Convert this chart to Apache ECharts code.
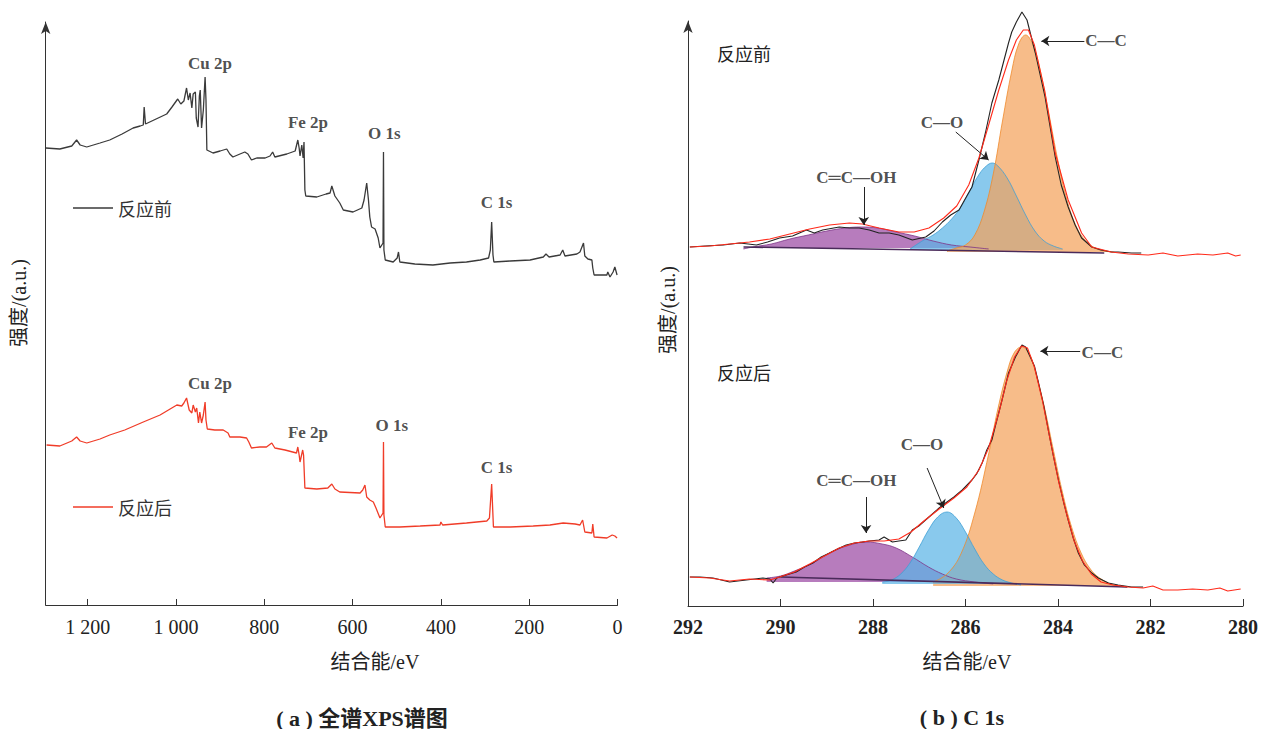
<!DOCTYPE html>
<html><head><meta charset="utf-8">
<script src="https://cdn.jsdelivr.net/npm/echarts@6/dist/echarts.min.js"></script>
<style>html,body{margin:0;padding:0;background:#fff}#c{width:1261px;height:729px}</style>
</head><body><div id="c"></div>
<script>
// ---------- DATA (binding energy eV, intensity a.u.) ----------
const surveyBefore = [[1295,457],[1263,456],[1236,459],[1225,465],[1217,460],[1202,458],[1172,462],[1150,465],[1122,471],[1097,477],[1081,479],[1074,480],[1072,498],[1069,481],[1045,486],[1021,491],[1009,498],[996,506],[989,501],[982,504],[976,517],[972,505],[968,512],[964,497],[961,511],[956,513],[954,487],[950,478],[947,509],[945,515],[942,477],[938,495],[934,528],[932,505],[930,455],[916,452],[900,454],[885,456],[878,451],[871,448],[855,451],[844,453],[837,451],[829,445],[817,447],[798,447],[787,449],[781,453],[776,448],[749,451],[730,454],[724,465],[721,457],[719,449],[715,460],[712,447],[710,463],[708,415],[706,409],[681,408],[660,411],[651,412],[647,419],[640,409],[629,402],[621,395],[599,393],[579,397],[574,405],[568,422],[564,405],[561,388],[557,378],[549,376],[542,367],[538,357],[531,362],[530,453],[529,355],[526,345],[508,343],[499,347],[496,353],[493,343],[459,341],[418,340],[379,342],[342,343],[311,345],[292,347],[288,355],[285,383],[282,350],[280,343],[243,344],[198,345],[168,348],[162,351],[155,348],[130,350],[124,355],[119,349],[92,351],[85,353],[77,362],[74,349],[67,346],[58,345],[56,337],[53,330],[40,330],[24,330],[22,333],[17,328],[10,333],[6,338],[1,330]];
const surveyAfter = [[1293,160],[1263,159],[1236,164],[1225,168],[1217,164],[1202,162],[1172,166],[1150,170],[1116,175],[1074,183],[1036,190],[998,200],[987,199],[982,202],[976,207],[970,195],[964,192],[961,200],[956,193],[953,197],[949,182],[946,193],[942,182],[938,190],[934,203],[932,185],[929,176],[912,175],[893,175],[882,172],[878,168],[855,168],[840,167],[835,163],[829,157],[810,158],[795,158],[783,162],[776,157],[753,155],[727,152],[724,158],[721,150],[719,143],[713,155],[711,150],[708,117],[681,116],[656,117],[647,121],[640,116],[629,113],[583,112],[577,115],[572,120],[568,108],[561,105],[553,103],[547,97],[538,87],[531,92],[530,163],[529,90],[526,78],[493,78],[447,79],[402,80],[400,83],[396,80],[342,82],[296,84],[290,87],[285,121],[281,78],[243,78],[191,79],[153,80],[123,82],[96,81],[85,80],[79,85],[74,73],[58,72],[56,81],[53,68],[24,67],[12,70],[6,69],[1,67]];
const surveyLabelsBefore = [['Cu 2p',923,542],['Fe 2p',701,483],['O 1s',528,472],['C 1s',274,403]];
const surveyLabelsAfter = [['Cu 2p',923,222],['Fe 2p',701,173],['O 1s',511,180],['C 1s',274,138]];
const surveyTicks = [0,200,400,600,800,1000,1200];

// C 1s before reaction
const c1sBeforeRaw = [[291.96,359],[291.63,360],[291.24,361],[290.88,363],[290.52,361],[290.28,364],[290.02,368],[289.74,370],[289.44,376],[289.27,373],[289.09,376],[288.73,379],[288.51,378],[288.30,378],[288.08,376],[287.87,373],[287.65,373],[287.44,371],[287.15,366],[286.86,369],[286.68,375],[286.50,384],[286.32,391],[286.14,396],[286.02,406],[285.86,419],[285.71,446],[285.57,473],[285.43,503],[285.28,526],[285.07,563],[285.00,574],[284.90,584],[284.78,594],[284.67,586],[284.49,553],[284.28,509],[284.06,449],[283.93,421],[283.78,399],[283.63,381],[283.49,368],[283.27,359],[283.07,356],[282.84,354],[282.70,354],[282.41,353],[282.2,353]];
const c1sBeforeFit = [[291.96,359],[291.53,360],[291.10,362],[290.67,364],[290.23,367],[289.80,372],[289.37,377],[288.94,381],[288.51,383],[288.23,382],[287.87,378],[287.44,374],[287.11,374],[286.79,378],[286.47,388],[286.19,400],[285.93,421],[285.71,448],[285.50,481],[285.28,516],[285.07,546],[284.90,566],[284.75,576],[284.64,576],[284.51,561],[284.29,516],[284.06,453],[283.78,406],[283.49,373],[283.27,359],[282.85,354],[282.48,352],[282.05,351],[281.73,353],[281.41,350],[280.98,352],[280.65,351],[280.33,353],[280.16,350],[280.05,351]];
const ccohBefore = [[290.8,357],[290.6,359],[290.2,362],[289.8,367],[289.4,371],[289.0,375],[288.6,378],[288.26,379],[287.9,378],[287.5,374],[287.1,370],[286.7,365],[286.3,361],[285.9,359],[285.5,357]];
const coBefore = [[287.2,357],[286.9,366],[286.7,371],[286.5,378],[286.3,387],[286.1,399],[285.9,416],[285.7,432],[285.55,440],[285.42,443],[285.3,440],[285.1,428],[284.9,410],[284.7,391],[284.5,375],[284.3,365],[284.1,360],[283.9,357]];
const ccBefore = [[286.4,355],[286.2,358],[286.0,361],[285.8,371],[285.6,394],[285.4,432],[285.2,485],[285.0,535],[284.85,562],[284.7,571],[284.55,562],[284.4,539],[284.2,493],[284.0,445],[283.8,405],[283.6,379],[283.4,365],[283.2,358],[283.0,355],[282.8,354]];
const bgBefore = [[290.8,359],[283.0,353]];
const baseBefore = [358,356,354]; // fill base of C=C-OH, C-O, C-C

// C 1s after reaction
const c1sAfterRaw = [[291.96,29],[291.74,29],[291.46,28],[291.10,24],[290.74,26],[290.38,28],[290.23,27],[290.16,23],[290.08,28],[290.02,29],[289.66,34],[289.48,39],[289.30,43],[289.12,49],[288.94,53],[288.77,57],[288.58,61],[288.40,63],[288.23,64],[288.08,65],[287.87,66],[287.76,69],[287.58,64],[287.44,65],[287.29,66],[287.15,76],[287.01,80],[286.79,89],[286.57,98],[286.43,103],[286.25,109],[286.07,116],[285.86,126],[285.76,132],[285.64,143],[285.54,156],[285.43,166],[285.36,179],[285.21,206],[285.07,233],[284.92,249],[284.78,261],[284.70,259],[284.60,249],[284.51,240],[284.42,223],[284.31,201],[284.21,176],[284.10,150],[283.99,126],[283.88,104],[283.78,86],[283.67,68],[283.56,53],[283.43,41],[283.27,33],[283.13,28],[282.91,23],[282.70,21],[282.41,19],[282.16,19]];
const c1sAfterFit = [[291.96,29],[291.53,28],[291.10,25],[290.67,27],[290.23,26],[290.02,29],[289.70,34],[289.37,42],[289.05,50],[288.73,58],[288.40,63],[288.08,65],[287.76,65],[287.44,67],[287.18,74],[286.90,85],[286.57,97],[286.25,108],[285.97,119],[285.71,136],[285.50,158],[285.28,193],[285.11,225],[284.94,249],[284.79,260],[284.66,258],[284.51,239],[284.34,206],[284.16,164],[283.99,125],[283.82,93],[283.65,65],[283.47,45],[283.28,32],[283.07,24],[282.81,21],[282.48,19],[282.16,18],[281.95,20],[281.73,16],[281.41,16],[281.09,17],[280.76,16],[280.50,18],[280.33,15],[280.05,17]];
const ccohAfter = [[290.3,28],[290.0,30],[289.7,35],[289.3,43],[288.9,54],[288.5,61],[288.15,64],[287.8,62],[287.5,58],[287.15,49],[286.8,39],[286.5,32],[286.2,27],[285.8,24],[285.4,22]];
const coAfter = [[287.8,24],[287.6,26],[287.4,32],[287.2,43],[287.0,59],[286.8,76],[286.6,89],[286.4,94],[286.2,88],[286.0,74],[285.8,57],[285.6,42],[285.4,32],[285.2,26],[285.0,23],[284.8,21]];
const ccAfter = [[286.7,24],[286.4,32],[286.1,52],[285.8,93],[285.5,152],[285.3,197],[285.1,234],[284.95,253],[284.79,259],[284.63,253],[284.5,236],[284.3,200],[284.1,156],[283.9,113],[283.7,78],[283.5,53],[283.3,37],[283.1,28],[282.8,21],[282.5,19]];
const bgAfter = [[290.0,29],[282.5,19]];
const baseAfter = [24,22,20];

const c1sLabels = [['C—O',286.51,484],['C═C—OH',288.36,429],['C—C',282.96,566],['C—O',286.94,162],['C═C—OH',288.36,126],['C—C',283.04,254]];
const c1sArrows = [[[286.21,474],[285.50,446]],[[288.20,419],[288.20,381]],[[283.43,565],[284.36,565]],[[286.83,138],[286.47,98]],[[288.15,109],[288.15,73]],[[283.52,255],[284.38,255]]];
const c1sTicks = [280,282,284,286,288,290,292];

// ---------- CHART ----------
const SERIF = "'Liberation Serif','Noto Sans CJK SC',serif";
const CJK = "'Noto Sans CJK SC',sans-serif";
const chart = echarts.init(document.getElementById('c'), null, {renderer:'svg'});

const yAxisBase = {type:'value', min:0, axisLabel:{show:false}, axisTick:{show:false}, splitLine:{show:false},
  axisLine:{show:true, onZero:false, symbol:['none','arrow'], symbolSize:[7,12], lineStyle:{color:'#333', width:1}}};

function fill(name, data, color, edge, base, z) {
  return {name, type:'line', xAxisIndex:1, yAxisIndex:1, data, showSymbol:false, symbol:'none', smooth:0.4,
    lineStyle:{color:edge, width:0.8}, itemStyle:{color:edge}, areaStyle:{color, opacity:0.72, origin:base}, z, silent:true};
}
function plain(name, data, color, width, xi, z) {
  return {name, type:'line', xAxisIndex:xi, yAxisIndex:xi, data, showSymbol:false, symbol:'none', clip:false,
    lineStyle:{color, width}, itemStyle:{color}, z, silent:true};
}
function labels(arr, xi, color) {
  return {type:'scatter', xAxisIndex:xi, yAxisIndex:xi, symbolSize:1, itemStyle:{color:'rgba(0,0,0,0)'}, z:10, silent:true,
    data: arr.map(a => ({name:a[0], value:[a[1], a[2]]})),
    label:{show:true, position:'inside', formatter:p => p.name, fontFamily:SERIF, fontWeight:'bold', fontSize:17, color}};
}

const option = {
  backgroundColor:'#fff',
  animation:false,
  grid:[
    {left:45.7, right:1261-617.5, top:22, bottom:729-605},
    {left:688, right:1261-1244.3, top:21, bottom:729-606}
  ],
  xAxis:[
    {type:'value', gridIndex:0, inverse:true, min:0, max:1295, interval:200,
     axisLine:{onZero:false, lineStyle:{color:'#333', width:1}}, axisTick:{inside:true, length:6, lineStyle:{color:'#333'}},
     splitLine:{show:false},
     axisLabel:{margin:12, fontFamily:SERIF, fontSize:20, color:'#222', showMaxLabel:false,
       formatter:v => surveyTicks.includes(v) ? (v >= 1000 ? Math.floor(v/1000) + ' ' + String(v%1000).padStart(3,'0') : String(v)) : ''}},
    {type:'value', gridIndex:1, inverse:true, min:280, max:292, interval:2,
     axisLine:{onZero:false, lineStyle:{color:'#333', width:1}}, axisTick:{inside:true, length:7, lineStyle:{color:'#333'}},
     splitLine:{show:false},
     axisLabel:{margin:11, fontFamily:SERIF, fontSize:20, fontWeight:'bold', color:'#222',
       formatter:v => c1sTicks.includes(v) ? String(v) : ''}}
  ],
  yAxis:[
    Object.assign({}, yAxisBase, {gridIndex:0, max:583}),
    Object.assign({}, yAxisBase, {gridIndex:1, max:585})
  ],
  legend:[
    {data:['反应前'], left:73, top:199, padding:0, icon:'rect', itemWidth:40, itemHeight:1.5, itemGap:4,
     textStyle:{fontFamily:CJK, fontSize:18, color:'#333'}, selectedMode:false},
    {data:['反应后'], left:73, top:498, padding:0, icon:'rect', itemWidth:40, itemHeight:1.5, itemGap:4,
     textStyle:{fontFamily:CJK, fontSize:18, color:'#333'}, selectedMode:false}
  ],
  graphic:[
    {type:'text', x:375, y:662, style:{text:'结合能/eV', fontFamily:SERIF, fontSize:20, fill:'#222', align:'center', verticalAlign:'middle'}},
    {type:'text', x:967, y:662, style:{text:'结合能/eV', fontFamily:SERIF, fontSize:20, fill:'#222', align:'center', verticalAlign:'middle'}},
    {type:'text', x:362, y:718, style:{text:'( a ) 全谱XPS谱图', fontFamily:SERIF, fontSize:22, fontWeight:'bold', fill:'#222', align:'center', verticalAlign:'middle'}},
    {type:'text', x:962, y:717, style:{text:'( b ) C 1s', fontFamily:SERIF, fontSize:22, fontWeight:'bold', fill:'#222', align:'center', verticalAlign:'middle'}},
    {type:'text', x:19, y:303, rotation:Math.PI/2, style:{text:'强度/(a.u.)', fontFamily:SERIF, fontSize:20, fill:'#222', align:'center', verticalAlign:'middle'}},
    {type:'text', x:668, y:310, rotation:Math.PI/2, style:{text:'强度/(a.u.)', fontFamily:SERIF, fontSize:20, fill:'#222', align:'center', verticalAlign:'middle'}},
    {type:'text', x:717, y:53, style:{text:'反应前', fontFamily:CJK, fontSize:18, fill:'#222', align:'left', verticalAlign:'middle'}},
    {type:'text', x:717, y:372, style:{text:'反应后', fontFamily:CJK, fontSize:18, fill:'#222', align:'left', verticalAlign:'middle'}}
  ],
  series:[
    plain('反应前', surveyBefore, '#3a3a3a', 1.3, 0, 3),
    plain('反应后', surveyAfter, '#f03c28', 1.3, 0, 3),
    labels(surveyLabelsBefore, 0, '#222'),
    labels(surveyLabelsAfter, 0, '#222'),

    fill('前 C=C-OH', ccohBefore, '#9b4aa3', '#7d3488', baseBefore[0], 2),
    fill('前 C-O', coBefore, '#5bb4e6', '#3f9fd6', baseBefore[1], 2),
    fill('前 C-C', ccBefore, '#f4a25c', '#f08a2c', baseBefore[2], 2),
    plain('前 背景', bgBefore, '#4a2a5a', 1.6, 1, 3),
    plain('前 原始', c1sBeforeRaw, '#222', 1.1, 1, 4),
    plain('前 拟合', c1sBeforeFit, '#ff2a1a', 1.1, 1, 5),

    fill('后 C=C-OH', ccohAfter, '#9b4aa3', '#7d3488', baseAfter[0], 2),
    fill('后 C-C', ccAfter, '#f4a25c', '#f08a2c', baseAfter[2], 2),
    fill('后 C-O', coAfter, '#5bb4e6', '#3f9fd6', baseAfter[1], 2),
    plain('后 背景', bgAfter, '#4a2a5a', 1.6, 1, 3),
    plain('后 原始', c1sAfterRaw, '#222', 1.1, 1, 4),
    plain('后 拟合', c1sAfterFit, '#ff2a1a', 1.1, 1, 5),

    labels(c1sLabels, 1, '#222'),
    {type:'lines', coordinateSystem:'cartesian2d', xAxisIndex:1, yAxisIndex:1, z:10, silent:true,
     symbol:['none','arrow'], symbolSize:[1,8],
     lineStyle:{color:'#222', width:1, opacity:1, curveness:0},
     data:c1sArrows.map(a => ({coords:a}))}
  ]
};
chart.setOption(option);
</script>
</body></html>
